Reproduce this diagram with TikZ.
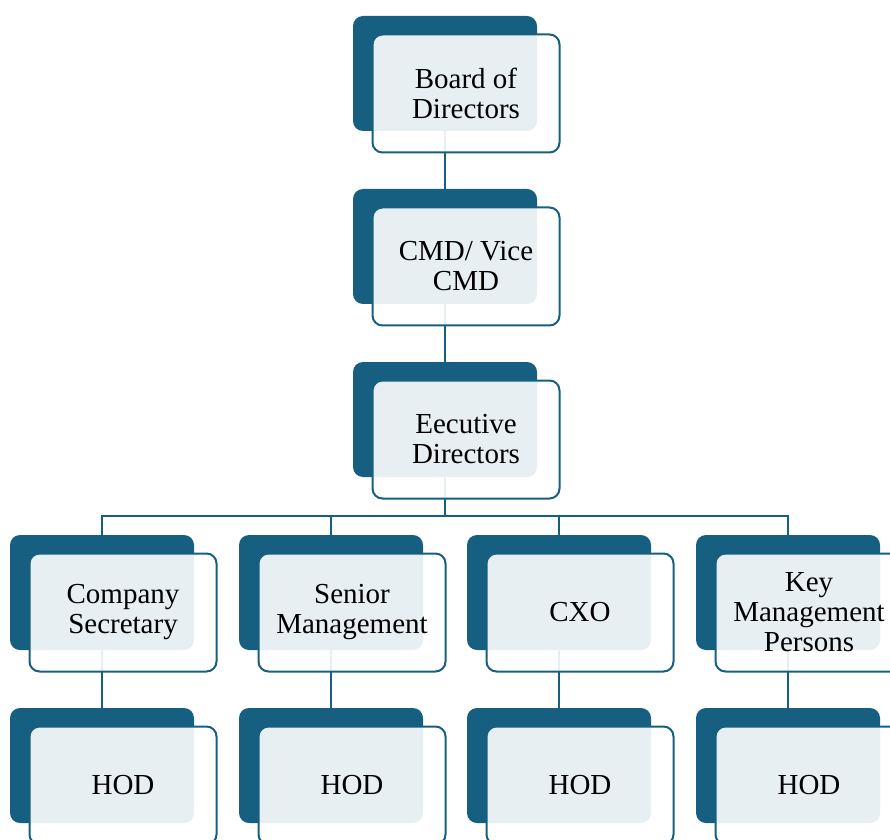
\documentclass[tikz,border=0pt]{standalone}
\usepackage{fontspec}
\setmainfont{Liberation Serif}
\definecolor{orgdark}{RGB}{22,95,128}
\begin{document}
\begin{tikzpicture}[x=1pt,y=1pt,
  darkbox/.style={rectangle, rounded corners=10pt, fill=orgdark, minimum width=184pt, minimum height=115pt, inner sep=0pt},
  frontbox/.style={rectangle, rounded corners=10pt, draw=orgdark, line width=2pt, fill=white, fill opacity=0.9, text opacity=1, minimum width=187pt, minimum height=118pt, inner sep=0pt, align=center, font=\fontsize{29}{30}\selectfont},
  link/.style={draw=orgdark, line width=2pt}]
\useasboundingbox (0,0) rectangle (890,839);
\clip (0,0) rectangle (890,839);
% back (dark) boxes
\node[darkbox] (d1) at (445,765.5) {};
\node[darkbox] (d2) at (445,592.5) {};
\node[darkbox] (d3) at (445,419.5) {};
\node[darkbox] (d4a) at (102,246.5) {};
\node[darkbox] (d4b) at (331,246.5) {};
\node[darkbox] (d4c) at (559,246.5) {};
\node[darkbox] (d4d) at (788,246.5) {};
\node[darkbox] (d5a) at (102,73.5) {};
\node[darkbox] (d5b) at (331,73.5) {};
\node[darkbox] (d5c) at (559,73.5) {};
\node[darkbox] (d5d) at (788,73.5) {};
% connectors
\coordinate (bus) at (445,323);
\draw[link] (d1.south) -- (d2.north);
\draw[link] (d2.south) -- (d3.north);
\draw[link] (d3.south) -- (d3.south |- bus);
\draw[link] (d4a.north) |- (bus);
\draw[link] (d4b.north) |- (bus);
\draw[link] (d4c.north) |- (bus);
\draw[link] (d4d.north) |- (bus);
\draw[link] (d4a.south) -- (d5a.north);
\draw[link] (d4b.south) -- (d5b.north);
\draw[link] (d4c.south) -- (d5c.north);
\draw[link] (d4d.south) -- (d5d.north);
% front boxes
\node[frontbox] (f1) at ([shift={(21,-20)}]d1.center) {Board of\\Directors};
\node[frontbox] (f2) at ([shift={(21,-20)}]d2.center) {CMD/ Vice\\CMD};
\node[frontbox] (f3) at ([shift={(21,-20)}]d3.center) {Eecutive\\Directors};
\node[frontbox] (f4a) at ([shift={(21,-20)}]d4a.center) {Company\\Secretary};
\node[frontbox] (f4b) at ([shift={(21,-20)}]d4b.center) {Senior\\Management};
\node[frontbox] (f4c) at ([shift={(21,-20)}]d4c.center) {CXO};
\node[frontbox] (f4d) at ([shift={(21,-20)}]d4d.center) {Key\\Management\\Persons};
\node[frontbox] (f5a) at ([shift={(21,-20)}]d5a.center) {HOD};
\node[frontbox] (f5b) at ([shift={(21,-20)}]d5b.center) {HOD};
\node[frontbox] (f5c) at ([shift={(21,-20)}]d5c.center) {HOD};
\node[frontbox] (f5d) at ([shift={(21,-20)}]d5d.center) {HOD};
\end{tikzpicture}
\end{document}
